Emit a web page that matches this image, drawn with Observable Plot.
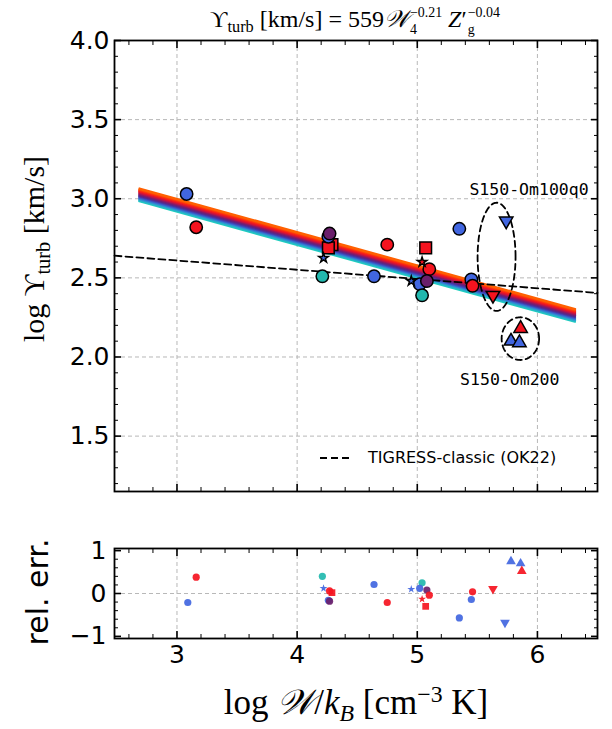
<!DOCTYPE html>
<html><head><meta charset="utf-8">
<script src="https://cdn.jsdelivr.net/npm/d3@7"></script>
<script src="https://cdn.jsdelivr.net/npm/@observablehq/plot@0.6"></script>
<style>
body{margin:0;background:#fff;}
#wrap{position:relative;width:612px;height:729px;overflow:hidden;font-family:"DejaVu Sans",sans-serif;color:#000;}
.abs{position:absolute;white-space:nowrap;}
.serif{font-family:"Liberation Serif","DejaVu Serif",serif;}
.ss{display:inline-flex;flex-direction:column;vertical-align:middle;line-height:1.25;font-size:0.58em;margin-left:1px;}
.sub{font-size:0.68em;vertical-align:-0.3em;}
.sup{font-size:0.68em;vertical-align:0.5em;}
</style></head><body><div id="wrap"></div>
<script>
// ---------------- data ----------------
const xDomain = [2.48, 6.5];
const yDomainMain = [1.15, 4.0];
const yDomainErr = [-1.05, 1.05];
const xTicks = [3, 4, 5, 6];
const yTicksMain = [1.5, 2.0, 2.5, 3.0, 3.5, 4.0];
const yTicksErr = [-1, 0, 1];

// main panel simulations: log W/kB, log Upsilon_turb, group colour, marker
const ptLogW   = [3.08, 3.16, 4.26, 4.27, 4.29, 4.26, 4.22, 4.21, 4.64, 4.75, 5.07, 5.04, 5.10, 4.95, 5.02, 5.08, 5.04, 5.35, 5.45, 5.46, 5.74, 5.63, 5.86, 5.78, 5.85];
const ptLogUps = [3.03, 2.82, 2.76, 2.78, 2.71, 2.69, 2.625, 2.51, 2.51, 2.71, 2.69, 2.60, 2.555, 2.48, 2.46, 2.48, 2.39, 2.81, 2.49, 2.45, 2.86, 2.39, 2.18, 2.10, 2.09];
const ptGroup  = ["blue","red","blue","purple","red","red","blue","teal","blue","red","red","red","red","blue","blue","purple","teal","blue","blue","red","blue","red","red","blue","blue"];
const ptMarker = ["circle","circle","circle","circle","square","square","star","circle","circle","circle","square","star","circle","star","circle","circle","circle","circle","circle","circle","tridown","tridown","tri","tri","tri"];

// lower panel: relative error of fit
const errLogW   = [3.09, 3.16, 4.21, 4.22, 4.27, 4.29, 4.26, 4.27, 4.64, 4.75, 4.95, 5.04, 5.02, 5.08, 5.10, 5.04, 5.07, 5.35, 5.46, 5.45, 5.63, 5.73, 5.78, 5.86, 5.87];
const errRel    = [-0.21, 0.38, 0.40, 0.12, 0.06, 0.02, -0.16, -0.18, 0.21, -0.21, 0.10, 0.25, 0.12, 0.08, -0.04, -0.13, -0.30, -0.57, 0.04, -0.14, 0.11, -0.68, 0.75, 0.70, 0.52];
const errGroup  = ["blue","red","teal","blue","red","red","blue","purple","blue","red","blue","teal","blue","purple","red","red","red","blue","red","blue","red","blue","blue","blue","red"];
const errMarker = ["circle","circle","circle","star","circle","square","circle","circle","circle","circle","star","circle","circle","circle","circle","star","square","circle","circle","circle","tridown","tridown","tri","tri","tri"];

// fit: Upsilon = 559 W4^-0.21 Z'^-0.04
const fitNorm = 559, fitSlopeW = -0.21, fitSlopeZ = -0.04;
const fitRange = [2.68, 6.32];
const fitLogZ = [-1.0, -0.85, -0.7, -0.55, -0.4, -0.25, -0.1, 0.05, 0.2, 0.35, 0.5, 0.65, 0.8, 0.95];

// TIGRESS-classic (OK22) relation
const okLogW = [2.48, 6.5];
const okLogUps = [2.64, 2.405];

// annotation ellipses and labels
const ellCx = [5.66, 5.858], ellCy = [2.633, 2.116], ellRx = [0.158, 0.156], ellRy = [0.342, 0.135];
const annText = ["S150-Om100q0", "S150-Om200"];
const annX = [5.93, 5.77], annY = [3.06, 1.855];

// ---------------- styles ----------------
const groupColor = {red:"#f5131f", blue:"#4166e0", teal:"#22b8ae", purple:"#6a1f6b"};
const markerSpec = {
  circle:{symbol:"circle", rot:0, r:6.2, rs:3.6},
  square:{symbol:"square", rot:0, r:6.6, rs:3.8},
  star:{symbol:"star", rot:0, r:3.0, rs:2.5},
  tri:{symbol:"triangle", rot:0, r:5.0, rs:3.6},
  tridown:{symbol:"triangle", rot:180, r:5.0, rs:3.6}
};
const bandColor = d3.interpolateRgbBasis(["#ff6000","#ff1a10","#d8103a","#7a1a6e","#4a2890","#3a5ad8","#2aa8d0","#1fd0bf"]);

const mainPts = ptLogW.map((x,i)=>({x, y:ptLogUps[i], g:ptGroup[i], m:ptMarker[i]}));
const errPts = errLogW.map((x,i)=>({x, y:errRel[i], g:errGroup[i], m:errMarker[i]}));

const band = [];
const zs = fitLogZ.slice().sort((a,b)=>b-a); // draw high Z (bottom) first
zs.forEach((lz,k)=>{
  fitRange.forEach(x=>{
    band.push({k, lz, x, y: Math.log10(fitNorm) + fitSlopeW*(x-4) + fitSlopeZ*lz});
  });
});
const zExt = d3.extent(fitLogZ);
const ok = okLogW.map((x,i)=>({x, y:okLogUps[i]}));
const ell = [];
ellCx.forEach((cx,e)=>{
  for(let j=0;j<=120;j++){const t=j/120*2*Math.PI; ell.push({e, x:cx+ellRx[e]*Math.cos(t), y:ellCy[e]+ellRy[e]*Math.sin(t)});}
});
const ann = annText.map((t,i)=>({t, x:annX[i], y:annY[i]}));

function minorTicks(lo, hi, step, majors){
  const out=[]; for(let v=lo; v<=hi+1e-9; v+=step){const r=Math.round(v*100)/100; if(!majors.some(m=>Math.abs(m-r)<1e-6)) out.push(r);} return out;
}
const xMinor = minorTicks(2.6, 6.4, 0.2, xTicks);
const yMinorMain = minorTicks(1.2, 3.9, 0.1, yTicksMain);
const yMinorErr = minorTicks(-1.0, 1.0, 0.2, yTicksErr);

const gridStyle = {stroke:"#b8b8b8", strokeOpacity:1, strokeDasharray:"4,3", strokeWidth:1};
function tickMarks(yMaj, yMin){
  const maj = {fill:"none", label:null, strokeWidth:1.6, tickSize:-7};
  const mn = {fill:"none", label:null, strokeWidth:1, tickSize:-4};
  return [
    Plot.axisX({...maj, anchor:"bottom", ticks:xTicks}),
    Plot.axisX({...maj, anchor:"top", ticks:xTicks}),
    Plot.axisX({...mn, anchor:"bottom", ticks:xMinor}),
    Plot.axisX({...mn, anchor:"top", ticks:xMinor}),
    Plot.axisY({...maj, anchor:"left", ticks:yMaj}),
    Plot.axisY({...maj, anchor:"right", ticks:yMaj}),
    Plot.axisY({...mn, anchor:"left", ticks:yMin}),
    Plot.axisY({...mn, anchor:"right", ticks:yMin})
  ];
}

const topPlot = Plot.plot({
  width:612, height:500, marginTop:40, marginBottom:9, marginLeft:114, marginRight:15,
  x:{domain:xDomain}, y:{domain:yDomainMain},
  style:{fontFamily:"DejaVu Sans", fontSize:"25px", color:"#000", background:"transparent", overflow:"visible"},
  marks:[
    Plot.gridX({ticks:xTicks, ...gridStyle}),
    Plot.gridY({ticks:yTicksMain, ...gridStyle}),
    Plot.line(band, {x:"x", y:"y", z:"k", stroke:d=>bandColor((d.lz-zExt[0])/(zExt[1]-zExt[0])), strokeWidth:2.6, strokeLinecap:"butt"}),
    Plot.line(ok, {x:"x", y:"y", stroke:"black", strokeWidth:1.8, strokeDasharray:"7,4"}),
    Plot.line(ell, {x:"x", y:"y", z:"e", stroke:"black", strokeWidth:1.8, strokeDasharray:"6,4"}),
    Plot.dot(mainPts, {x:"x", y:"y", fill:d=>groupColor[d.g], symbol:d=>markerSpec[d.m].symbol, rotate:d=>markerSpec[d.m].rot, r:{value:d=>markerSpec[d.m].r, scale:null}, stroke:"black", strokeWidth:1.5}),
    Plot.text(ann, {x:"x", y:"y", text:"t", fontFamily:"DejaVu Sans Mono", fontSize:16.5, fill:"black"}),
    Plot.frame({stroke:"black", strokeWidth:1.8}),
    ...tickMarks(yTicksMain, yMinorMain),
    Plot.axisY({anchor:"left", ticks:yTicksMain, tickSize:0, tickPadding:5, tickFormat:".1f", label:null}),
    Plot.axisX({anchor:"bottom", ticks:xTicks, tickSize:0, fill:"none", label:null})
  ]
});

const lowPlot = Plot.plot({
  width:612, height:229, marginTop:48, marginBottom:91, marginLeft:114, marginRight:15,
  x:{domain:xDomain}, y:{domain:yDomainErr},
  style:{fontFamily:"DejaVu Sans", fontSize:"25px", color:"#000", background:"transparent", overflow:"visible"},
  marks:[
    Plot.gridX({ticks:xTicks, ...gridStyle}),
    Plot.gridY({ticks:[0], ...gridStyle}),
    Plot.dot(errPts, {x:"x", y:"y", fill:d=>groupColor[d.g], fillOpacity:0.92, symbol:d=>markerSpec[d.m].symbol, rotate:d=>markerSpec[d.m].rot, r:{value:d=>markerSpec[d.m].rs, scale:null}}),
    Plot.frame({stroke:"black", strokeWidth:1.8}),
    ...tickMarks(yTicksErr, yMinorErr),
    Plot.axisY({anchor:"left", ticks:yTicksErr, tickSize:0, tickPadding:8, tickFormat:"d", label:null}),
    Plot.axisX({anchor:"bottom", ticks:xTicks, tickSize:0, tickPadding:7, tickFormat:"d", label:null})
  ]
});

const wrap = document.getElementById("wrap");
topPlot.style.position="absolute"; topPlot.style.left="0px"; topPlot.style.top="0px";
lowPlot.style.position="absolute"; lowPlot.style.left="0px"; lowPlot.style.top="500px";
wrap.appendChild(topPlot); wrap.appendChild(lowPlot);

function addText(html, cls, css){
  const d=document.createElement("div"); d.className="abs "+cls; d.innerHTML=html; Object.assign(d.style, css); wrap.appendChild(d); return d;
}
// title
addText('ϒ<span class="sub">turb</span> [km/s] = 559<i>𝒲</i><span class="ss"><span>−0.21</span><span>4</span></span> <i>Z</i>′<span class="ss"><span>−0.04</span><span>g</span></span>',
  "serif", {left:"355px", top:"4px", transform:"translateX(-50%)", fontSize:"24px", lineHeight:"30px"});
// y label main
addText('log ϒ<span class="sub">turb</span> [km/s]', "serif", {left:"36px", top:"249px", transform:"translate(-50%,-50%) rotate(-90deg)", fontSize:"30px"});
// y label lower
addText('rel. err.', "", {left:"37px", top:"592px", transform:"translate(-50%,-50%) rotate(-90deg)", fontSize:"30px"});
// x label
addText('log <i>𝒲</i>/<i>k</i><span class="sub"><i>B</i></span> [cm<span class="sup">−3</span> K]', "serif", {left:"356px", top:"704px", transform:"translate(-50%,-50%)", fontSize:"35px"});
// legend
addText('<svg width="34" height="10" style="vertical-align:middle"><line x1="1" y1="5" x2="33" y2="5" stroke="black" stroke-width="1.8" stroke-dasharray="7,4"/></svg><span style="margin-left:15px;vertical-align:middle">TIGRESS-classic (OK22)</span>',
  "", {left:"319px", top:"447px", fontSize:"16px", lineHeight:"20px"});
</script></body></html>
